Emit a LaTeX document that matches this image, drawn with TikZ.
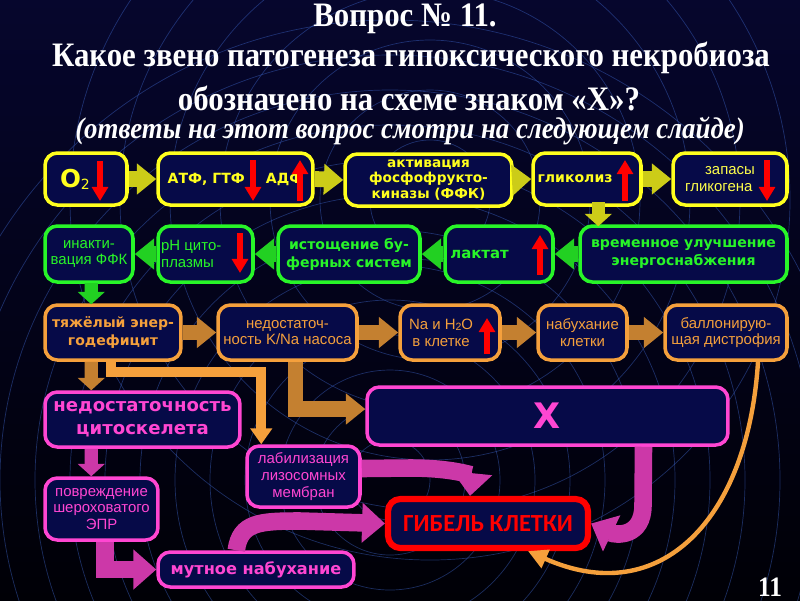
\documentclass[tikz,border=0pt]{standalone}
\usepackage{fontspec}
\setmainfont{Liberation Serif}
\newfontfamily\titlefont[FakeStretch=0.9]{Liberation Serif}
\newfontfamily\boxfont{DejaVu Sans}
\newfontfamily\lightfont{Liberation Sans}
\newfontfamily\redfont{Carlito}
\usetikzlibrary{arrows.meta,calc}

\definecolor{bgtop}{RGB}{6,6,45}
\definecolor{bgmid}{RGB}{10,22,105}
\definecolor{bgbot}{RGB}{0,0,6}
\definecolor{boxbg}{RGB}{6,10,72}
\definecolor{ylw}{RGB}{255,255,30}
\definecolor{grn}{RGB}{40,245,40}
\definecolor{org}{RGB}{245,160,60}
\definecolor{mag}{RGB}{255,70,210}
\definecolor{rng}{RGB}{60,100,200}

\tikzset{
  box/.style={draw, line width=2pt, rounded corners=7pt, fill=boxbg, align=center,
    inner sep=1pt, font=\boxfont\bfseries\fontsize{8}{10.2}\selectfont},
  lighttext/.style={font=\lightfont\fontsize{8.5}{9.6}\selectfont},
  ybox/.style={box, draw=ylw, text=ylw},
  gbox/.style={box, draw=grn, text=grn},
  obox/.style={box, draw=org, text=org},
  mbox/.style={box, draw=mag, text=mag},
  yarr/.style={draw=ylw!80!black, line width=9pt, -{Triangle[width=17pt,length=11pt]}},
  garr/.style={draw=grn!85!black, line width=9pt, -{Triangle[width=17pt,length=11pt]}},
  oarr/.style={draw=org!80!black, line width=9pt, -{Triangle[width=17pt,length=11pt]}},
  marr/.style={draw=mag!80!black, line width=10pt, -{Triangle[width=22pt,length=13pt]}},
  shortarr/.style={line width=7.5pt, -{Triangle[width=15pt,length=7pt]}},
  ind/.style={draw=red, line width=3pt, -{Triangle[width=9pt,length=8pt]}},
  title/.style={text=white, font=\titlefont\bfseries\fontsize{19.5}{19.5}\selectfont},
  ring/.style={draw=rng, line width=0.4pt, opacity=0.45}
}

\begin{document}
\begin{tikzpicture}[x=0.02cm, y=-0.02cm]
\useasboundingbox (0,0) rectangle (800,600);
% background
\shade[top color=bgtop, middle color=bgmid, bottom color=bgbot] (0,0) rectangle (800,600);
\begin{scope}
  \clip (0,0) rectangle (800,600);
  \foreach \r in {40,75,...,460} \draw[ring] (390,480) circle[radius=\r*0.02cm];
  \foreach \r in {60,110,...,360} \draw[ring] (430,200) circle[radius=\r*0.02cm];
\end{scope}

% title
\node[title] (t1) at (405,19) {Вопрос № 11.};
\node[title] (t2) at (411,58) {Какое звено патогенеза гипоксического некробиоза};
\node[title] (t3) at (409,98) {обозначено на схеме знаком «Х»?};
\node[title, font=\titlefont\bfseries\itshape\fontsize{17}{17}\selectfont] (t4) at (410,131) {(ответы на этот вопрос смотри на следующем слайде)};

% row 1
\node[ybox, minimum width=1.64cm, minimum height=1.04cm] (o2) at (86,179)
  {\fontsize{14}{14}\selectfont O\raisebox{-1pt}{\mdseries\fontsize{8}{8}\selectfont 2}\hspace*{0.9em}};
\node[ybox, minimum width=3.10cm, minimum height=1.04cm] (atf) at (235.5,179) {АТФ, ГТФ\hspace{1.5em}АДФ};
\node[ybox, font=\boxfont\bfseries\fontsize{7.8}{8.8}\selectfont, minimum width=3.34cm, minimum height=1.04cm] (pfk) at (428.5,180) {активация\\фосфофрукто-\\киназы (ФФК)};
\node[ybox, minimum width=2.16cm, minimum height=1.04cm] (glyc) at (587,179) {гликолиз\hspace*{1.7em}};
\node[ybox, lighttext, text=ylw!80!white, minimum width=2.28cm, minimum height=1.04cm] (glyg) at (730,179) {запасы\\гликогена\hspace*{1.5em}};

% row 2
\node[gbox, lighttext, minimum width=1.76cm, minimum height=1.12cm] (inakt) at (89,254) {инакти-\\вация ФФК};
\node[gbox, lighttext, align=left, minimum width=1.90cm, minimum height=1.12cm] (ph) at (205.5,254) {pH цито-\\плазмы\hspace*{2.4em}};
\node[gbox, minimum width=2.84cm, minimum height=1.12cm] (buf) at (349,254) {истощение бу-\\ферных систем};
\node[gbox, font=\boxfont\bfseries\fontsize{8.5}{12}\selectfont, minimum width=2.16cm, minimum height=1.12cm] (lact) at (499,254) {лактат\hspace*{2.6em}};
\node[gbox, minimum width=4.14cm, minimum height=1.12cm] (temp) at (683.5,254) {временное улучшение\\энергоснабжения};

% row 3
\node[obox, minimum width=2.72cm, minimum height=1.10cm] (deficit) at (113,332.5) {тяжёлый энер-\\годефицит};
\node[obox, lighttext, minimum width=2.78cm, minimum height=1.10cm] (pump) at (287.5,332.5) {недостаточ-\\ность K/Na насоса};
\node[obox, lighttext, minimum width=2.00cm, minimum height=1.10cm] (na) at (450,332.5) {Na и H\raisebox{-1pt}{\fontsize{6}{6}\selectfont 2}O\hspace*{1.2em}\\в клетке\hspace*{1.2em}};
\node[obox, lighttext, minimum width=1.78cm, minimum height=1.10cm] (swell) at (582.5,332.5) {набухание\\клетки};
\node[obox, lighttext, minimum width=2.44cm, minimum height=1.10cm] (ballon) at (726,332.5) {баллонирую-\\щая дистрофия};

% row 4 and below
\node[mbox, font=\boxfont\bfseries\fontsize{10.3}{13}\selectfont, minimum width=3.90cm, minimum height=1.10cm] (cyto) at (142.5,419.5) {недостаточность\\цитоскелета};
\node[mbox, font=\boxfont\bfseries\fontsize{20}{20}\selectfont, minimum width=7.22cm, minimum height=1.16cm] (xbox) at (547.5,416) {X};
\node[mbox, lighttext, minimum width=2.26cm, minimum height=1.22cm] (lab) at (303.5,476.5) {лабилизация\\лизосомных\\мембран};
\node[mbox, lighttext, minimum width=2.26cm, minimum height=1.24cm] (epr) at (101.5,509) {повреждение\\шероховатого\\ЭПР};
\node[mbox, font=\boxfont\bfseries\fontsize{9.2}{10}\selectfont, minimum width=3.92cm, minimum height=0.70cm] (turbid) at (256,569.5) {мутное набухание};
\node[box, draw=red, text=red, line width=3.5pt, font=\redfont\bfseries\fontsize{14}{15}\selectfont,
  minimum width=4.00cm, minimum height=0.98cm] (death) at (488,523.5) {ГИБЕЛЬ КЛЕТКИ};
\node[text=white, inner sep=0pt, font=\titlefont\bfseries\fontsize{16}{16}\selectfont] (page) at (770,587) {11};

% yellow links
\draw[yarr] (o2.east) -- (atf.west);
\draw[yarr] (atf.east) -- (pfk.west);
\draw[yarr] (pfk.east) -- (glyc.west);
\draw[yarr] (glyc.east) -- (glyg.west);
\draw[yarr, shortarr] ($(temp.north west)+(20,-22)$) -- ($(temp.north west)+(20,2)$);
% green links
\draw[garr] (temp.west) -- (lact.east);
\draw[garr] (lact.west) -- (buf.east);
\draw[garr] (buf.west) -- (ph.east);
\draw[garr] (ph.west) -- (inakt.east);
\draw[garr, shortarr] ($(inakt.south west)+(48,-1)$) -- ($(deficit.north west)+(48,1)$);
% orange links
\draw[oarr] (deficit.east) -- (pump.west);
\draw[oarr] (pump.east) -- (na.west);
\draw[oarr] (na.east) -- (swell.west);
\draw[oarr] (swell.east) -- (ballon.west);
\draw[oarr, shortarr] ($(deficit.south west)+(48,0)$) -- ($(cyto.north west)+(48,0)$);
\draw[draw=org, line width=5.5pt, -{Triangle[width=12pt,length=9pt]}]
  ($(deficit.south west)+(68,0)$) |- ($(lab.north west)+(16,-72)$) -- ($(lab.north west)+(16,0)$);
\draw[oarr] ($(pump.south)+(8,0)$) |- ($(xbox.west)+(0,-7)$);
\draw[draw=org, line width=2.5pt, -{Triangle[width=11pt,length=11pt]}]
  ($(ballon.south)+(32,0)$) .. controls (748,520) and (660,610) .. ($(death.south)+(40,0)$);
% magenta links
\draw[marr, shortarr] ($(cyto.south west)+(48,0)$) -- ($(epr.north west)+(48,0)$);
\draw[marr] ($(epr.south west)+(62,0)$) |- (turbid.west);
\draw[marr] ($(turbid.north west)+(80,0)$) .. controls (240,522) and (260,521) .. (300,521) -- (death.west);
\draw[marr] ($(lab.east)+(0,-8)$) -- (410,468) .. controls (455,468) and (472,476) .. ($(death.north)+(-18,0)$);
\draw[marr] ($(xbox.south)+(96,0)$) -- (643,505) .. controls (643,538) and (615,535) .. (death.east);

% red marks
\draw[ind] (100,161) -- (100,201);
\draw[ind] (253,160) -- (253,201);
\draw[ind] (300,201) -- (300,160);
\draw[ind] (625,201) -- (625,160);
\draw[ind] (767,160) -- (767,201);
\draw[ind] (240,233) -- (240,273);
\draw[ind] (540,275) -- (540,235);
\draw[ind] (487,354) -- (487,318);
\end{tikzpicture}
\end{document}
